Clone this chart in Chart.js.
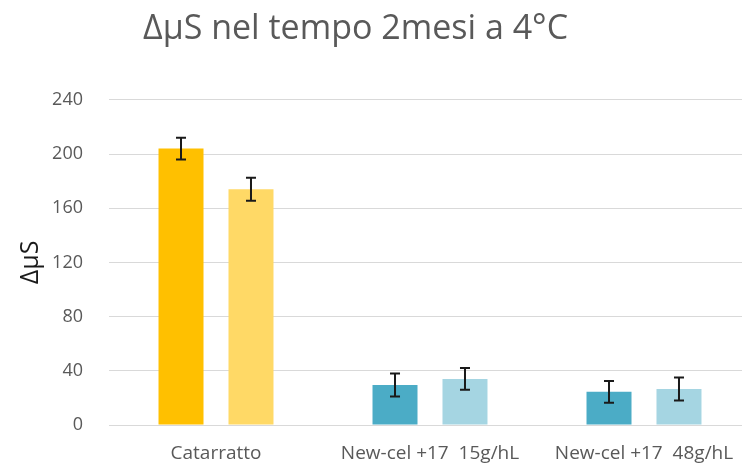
<!DOCTYPE html>
<html>
<head>
<meta charset="utf-8">
<script src="https://cdn.jsdelivr.net/npm/chart.js@4/dist/chart.umd.min.js"></script>
<style>
    html, body { margin: 0; padding: 0; background: #fff; overflow: hidden; }
    #wrap { position: relative; width: 742px; height: 465px; overflow: hidden; }
    #wrap canvas { position: absolute; left: -40px; top: 0; }
</style>
</head>
<body>
<div id="wrap">
    <canvas id="myChart" width="792" height="465" style="width:792px;height:465px;"></canvas>
</div>
<script>
// dati
const categories = ['Catarratto', 'New-cel +17  15g/hL', 'New-cel +17  48g/hL'];
const seriesA = [204, 29.5, 24.5];
const seriesB = [174, 34, 26.5];
const errorsA = [8, 8.5, 8];
const errorsB = [8.5, 8, 8.5];
const yTicks = [0, 40, 80, 120, 160, 200, 240];

const colorsA = ['#FFC000', '#4BACC6', '#4BACC6'];
const colorsB = ['#FFD966', '#A5D5E2', '#A5D5E2'];

// barre di errore disegnate sopra le barre
const errorBars = {
    id: 'errorBars',
    afterDatasetsDraw(chart) {
        const ctx = chart.ctx;
        const y = chart.scales.y;
        chart.data.datasets.forEach((ds, i) => {
            const meta = chart.getDatasetMeta(i);
            meta.data.forEach((bar, j) => {
                const v = ds.data[j];
                const e = ds.errors[j];
                const top = y.getPixelForValue(v + e);
                const bottom = y.getPixelForValue(v - e);
                ctx.save();
                ctx.strokeStyle = '#1a1a1a';
                ctx.lineWidth = 2;
                ctx.beginPath();
                ctx.moveTo(bar.x, top);
                ctx.lineTo(bar.x, bottom);
                ctx.moveTo(bar.x - 5, top);
                ctx.lineTo(bar.x + 5, top);
                ctx.moveTo(bar.x - 5, bottom);
                ctx.lineTo(bar.x + 5, bottom);
                ctx.stroke();
                ctx.restore();
            });
        });
    }
};

new Chart(document.getElementById('myChart'), {
    type: 'bar',
    data: {
        labels: categories,
        datasets: [
            { data: seriesA, errors: errorsA, backgroundColor: colorsA },
            { data: seriesB, errors: errorsB, backgroundColor: colorsB }
        ]
    },
    options: {
        responsive: false,
        animation: false,
        categoryPercentage: 0.654,
        barPercentage: 0.643,
        layout: { padding: { left: 0, right: 1, top: 0, bottom: 1 } },
        plugins: {
            legend: { display: false },
            tooltip: { enabled: false },
            title: {
                display: true,
                text: 'ΔμS nel tempo 2mesi a 4°C',
                color: '#595959',
                font: { family: 'Open Sans', size: 34, weight: 'normal' },
                padding: { top: 9, bottom: 50 }
            }
        },
        scales: {
            x: {
                afterFit: (scale) => { scale.height = 39; },
                grid: { display: false, drawTicks: false },
                border: { color: '#d9d9d9' },
                ticks: {
                    color: '#595959',
                    font: { family: 'Open Sans', size: 19 },
                    padding: 17,
                    maxRotation: 0,
                    autoSkip: false
                }
            },
            y: {
                min: 0,
                max: 240,
                afterBuildTicks: (scale) => { scale.ticks = yTicks.map(v => ({ value: v })); },
                afterFit: (scale) => { scale.width = 149; },
                grid: { color: '#d9d9d9', drawTicks: false },
                border: { display: false },
                ticks: {
                    color: '#595959',
                    font: { family: 'Open Sans', size: 18 },
                    padding: 26
                },
                title: {
                    display: true,
                    text: 'ΔμS',
                    color: '#1a1a1a',
                    font: { family: 'Open Sans', size: 25 },
                    padding: { top: 56, bottom: 4 }
                }
            }
        }
    },
    plugins: [errorBars]
});
</script>
</body>
</html>
